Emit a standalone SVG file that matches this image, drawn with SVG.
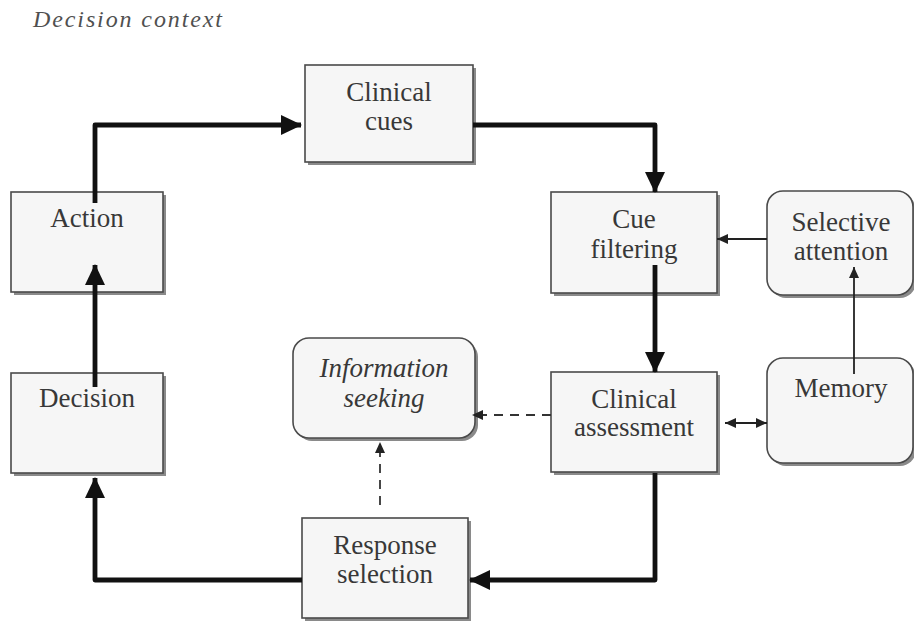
<svg xmlns="http://www.w3.org/2000/svg" width="914" height="622" viewBox="0 0 914 622">
  <style>
    .box { fill: #f6f6f6; stroke: #4a4a4a; stroke-width: 1.6; }
    .shadow { fill: #8a8a8a; }
    .lbl { font-family: 'Liberation Serif', Tinos, 'Times New Roman', 'DejaVu Serif', serif; font-size: 27px; fill: #383838; text-anchor: middle; }
    .it { font-style: italic; }
    .thick { fill: none; stroke: #111; stroke-width: 4.8; stroke-linejoin: round; }
    .thin { fill: none; stroke: #222; stroke-width: 1.8; }
    .dash { fill: none; stroke: #333; stroke-width: 1.8; stroke-dasharray: 9 7; }
  </style>
  <defs>
    <marker id="bigHead" markerUnits="userSpaceOnUse" markerWidth="22" markerHeight="22" viewBox="0 0 22 22" refX="20" refY="11" orient="auto">
      <path d="M0,1 L21,11 L0,21 Z" fill="#111"/>
    </marker>
    <marker id="smallHead" markerUnits="userSpaceOnUse" markerWidth="12" markerHeight="12" viewBox="0 0 12 12" refX="11" refY="6" orient="auto">
      <path d="M0,1 L11,6 L0,11 Z" fill="#222"/>
    </marker>
    <marker id="smallTail" markerUnits="userSpaceOnUse" markerWidth="12" markerHeight="12" viewBox="0 0 12 12" refX="1" refY="6" orient="auto">
      <path d="M12,1 L1,6 L12,11 Z" fill="#222"/>
    </marker>
  </defs>

  <text x="33" y="27" class="lbl it" style="font-size:24px;text-anchor:start;fill:#505050" textLength="189">Decision  context</text>

  <g id="node-clinical-cues">
    <rect x="308" y="68" width="168" height="97" class="shadow"/>
    <rect x="305" y="65" width="168" height="97" class="box"/>
    <text x="389" y="101" class="lbl">Clinical</text>
    <text x="389" y="130" class="lbl">cues</text>
  </g>

  <g id="node-action">
    <rect x="14" y="195" width="152" height="100" class="shadow"/>
    <rect x="11" y="192" width="152" height="100" class="box"/>
    <text x="87" y="227" class="lbl">Action</text>
  </g>

  <g id="node-cue-filtering">
    <rect x="554" y="195" width="166" height="101" class="shadow"/>
    <rect x="551" y="192" width="166" height="101" class="box"/>
    <text x="634" y="228" class="lbl">Cue</text>
    <text x="634" y="258" class="lbl">filtering</text>
  </g>

  <g id="node-selective-attention">
    <rect x="770" y="194" width="146" height="104" rx="16" class="shadow"/>
    <rect x="767" y="191" width="146" height="104" rx="16" class="box"/>
    <text x="841" y="231" class="lbl">Selective</text>
    <text x="841" y="260" class="lbl">attention</text>
  </g>

  <g id="node-information-seeking">
    <rect x="296" y="341" width="182" height="100" rx="16" class="shadow"/>
    <rect x="293" y="338" width="182" height="100" rx="16" class="box"/>
    <text x="384" y="377" class="lbl it">Information</text>
    <text x="384" y="407" class="lbl it">seeking</text>
  </g>

  <g id="node-clinical-assessment">
    <rect x="554" y="375" width="166" height="100" class="shadow"/>
    <rect x="551" y="372" width="166" height="100" class="box"/>
    <text x="634" y="408" class="lbl">Clinical</text>
    <text x="634" y="436" class="lbl">assessment</text>
  </g>

  <g id="node-memory">
    <rect x="770" y="361" width="146" height="105" rx="16" class="shadow"/>
    <rect x="767" y="358" width="146" height="105" rx="16" class="box"/>
    <text x="841" y="397" class="lbl">Memory</text>
  </g>

  <g id="node-decision">
    <rect x="14" y="376" width="152" height="100" class="shadow"/>
    <rect x="11" y="373" width="152" height="100" class="box"/>
    <text x="87" y="407" class="lbl">Decision</text>
  </g>

  <g id="node-response-selection">
    <rect x="305" y="521" width="166" height="100" class="shadow"/>
    <rect x="302" y="518" width="166" height="100" class="box"/>
    <text x="385" y="554" class="lbl">Response</text>
    <text x="385" y="583" class="lbl">selection</text>
  </g>

  <g id="connectors">
    <path d="M95,203 V125 H301" class="thick" marker-end="url(#bigHead)"/>
    <path d="M473,125 H655 V192" class="thick" marker-end="url(#bigHead)"/>
    <path d="M655,265 V372" class="thick" marker-end="url(#bigHead)"/>
    <path d="M655,473 V580 H470" class="thick" marker-end="url(#bigHead)"/>
    <path d="M302,580 H95 V478" class="thick" marker-end="url(#bigHead)"/>
    <path d="M95,387 V265" class="thick" marker-end="url(#bigHead)"/>
    <path d="M767,239 H717" class="thin" marker-end="url(#smallHead)"/>
    <path d="M854,374 V267" class="thin" marker-end="url(#smallHead)"/>
    <path d="M725,423 H767" class="thin" marker-start="url(#smallTail)" marker-end="url(#smallHead)"/>
    <path d="M551,415 H472" class="dash" marker-end="url(#smallHead)"/>
    <path d="M380,505 V442" class="dash" marker-end="url(#smallHead)"/>
  </g>
</svg>
